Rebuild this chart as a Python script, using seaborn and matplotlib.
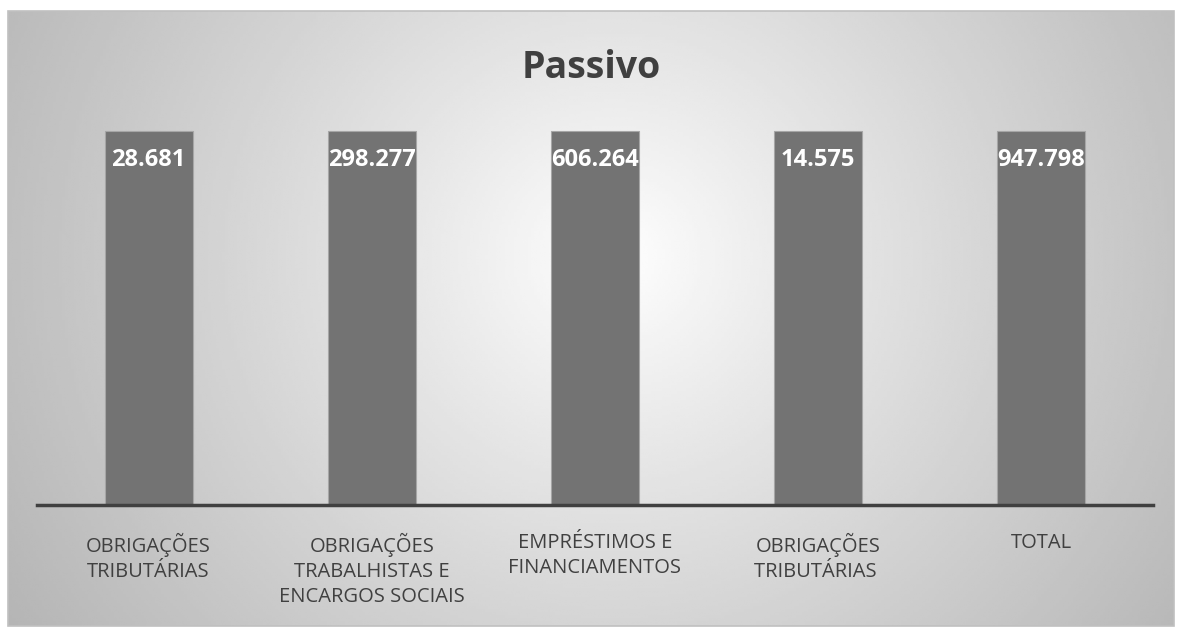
import numpy as np
import pandas as pd
import matplotlib.pyplot as plt
import seaborn as sns
from matplotlib.patches import Rectangle

categories = ['OBRIGAÇÕES\nTRIBUTÁRIAS',
              'OBRIGAÇÕES\nTRABALHISTAS E\nENCARGOS SOCIAIS',
              'EMPRÉSTIMOS E\nFINANCIAMENTOS',
              'OBRIGAÇÕES\nTRIBUTÁRIAS ',
              'TOTAL']
value_labels = ['28.681', '298.277', '606.264', '14.575', '947.798']
# 100% column chart: each column is one full bar
share = [100, 100, 100, 100, 100]

df = pd.DataFrame({'cat': categories, 'share': share, 'label': value_labels})

sns.set_theme(style="white")
plt.rcParams['font.family'] = ['Open Sans', 'DejaVu Sans']

W, H = 1182, 632
fig = plt.figure(figsize=(W / 100, H / 100), dpi=100)

# background with radial gradient inside a framed box
bg = fig.add_axes([0, 0, 1, 1])
bg.set_xlim(0, W)
bg.set_ylim(H, 0)
bg.axis('off')
x0, y0, x1, y1 = 8, 11, 1174, 626
yy, xx = np.mgrid[0:200, 0:400]
cx, cy = 0.52, 0.4
r = np.sqrt(((xx / 399 - cx) * 1.0) ** 2 + ((yy / 199 - cy) * 0.55) ** 2)
val = np.clip(1.0 - 0.45 * r ** 0.9, 0, 1)
bg.imshow(val, cmap='gray', vmin=0, vmax=1, extent=[x0, x1, y1, y0], aspect='auto', interpolation='bilinear')
bg.add_patch(Rectangle((x0, y0), x1 - x0, y1 - y0, fill=False, edgecolor='#c0c0c0', lw=1.2))

ax = fig.add_axes([37 / W, (H - 505) / H, 1116 / W, (505 - 110) / H])
ax.patch.set_alpha(0)
sns.barplot(data=df, x='cat', y='share', color='#737373', width=0.394,
            edgecolor='#a6a6a6', linewidth=0.8, saturation=1, ax=ax)
ax.set_ylim(0, 100 * 395 / 374)
ax.set_xlim(-0.5, len(categories) - 0.5)

for i, lab in enumerate(value_labels):
    ax.text(i, 92.3, lab, ha='center', va='center', color='white',
            fontsize=17, fontweight='bold')

for s in ['top', 'right', 'left']:
    ax.spines[s].set_visible(False)
ax.spines['bottom'].set_color('#404040')
ax.spines['bottom'].set_linewidth(2.5)
ax.set_yticks([])
ax.tick_params(axis='x', length=0, pad=20, labelsize=14.5, labelcolor='#404040')
for t in ax.get_xticklabels():
    t.set_linespacing(1.33)
    t.set_verticalalignment('top')
ax.set_xlabel('')
ax.set_ylabel('')

fig.text(0.5, (H - 68) / H, 'Passivo', ha='center', va='center',
         fontsize=27, fontweight='bold', color='#404040')

fig.savefig('out.png', dpi=100)
